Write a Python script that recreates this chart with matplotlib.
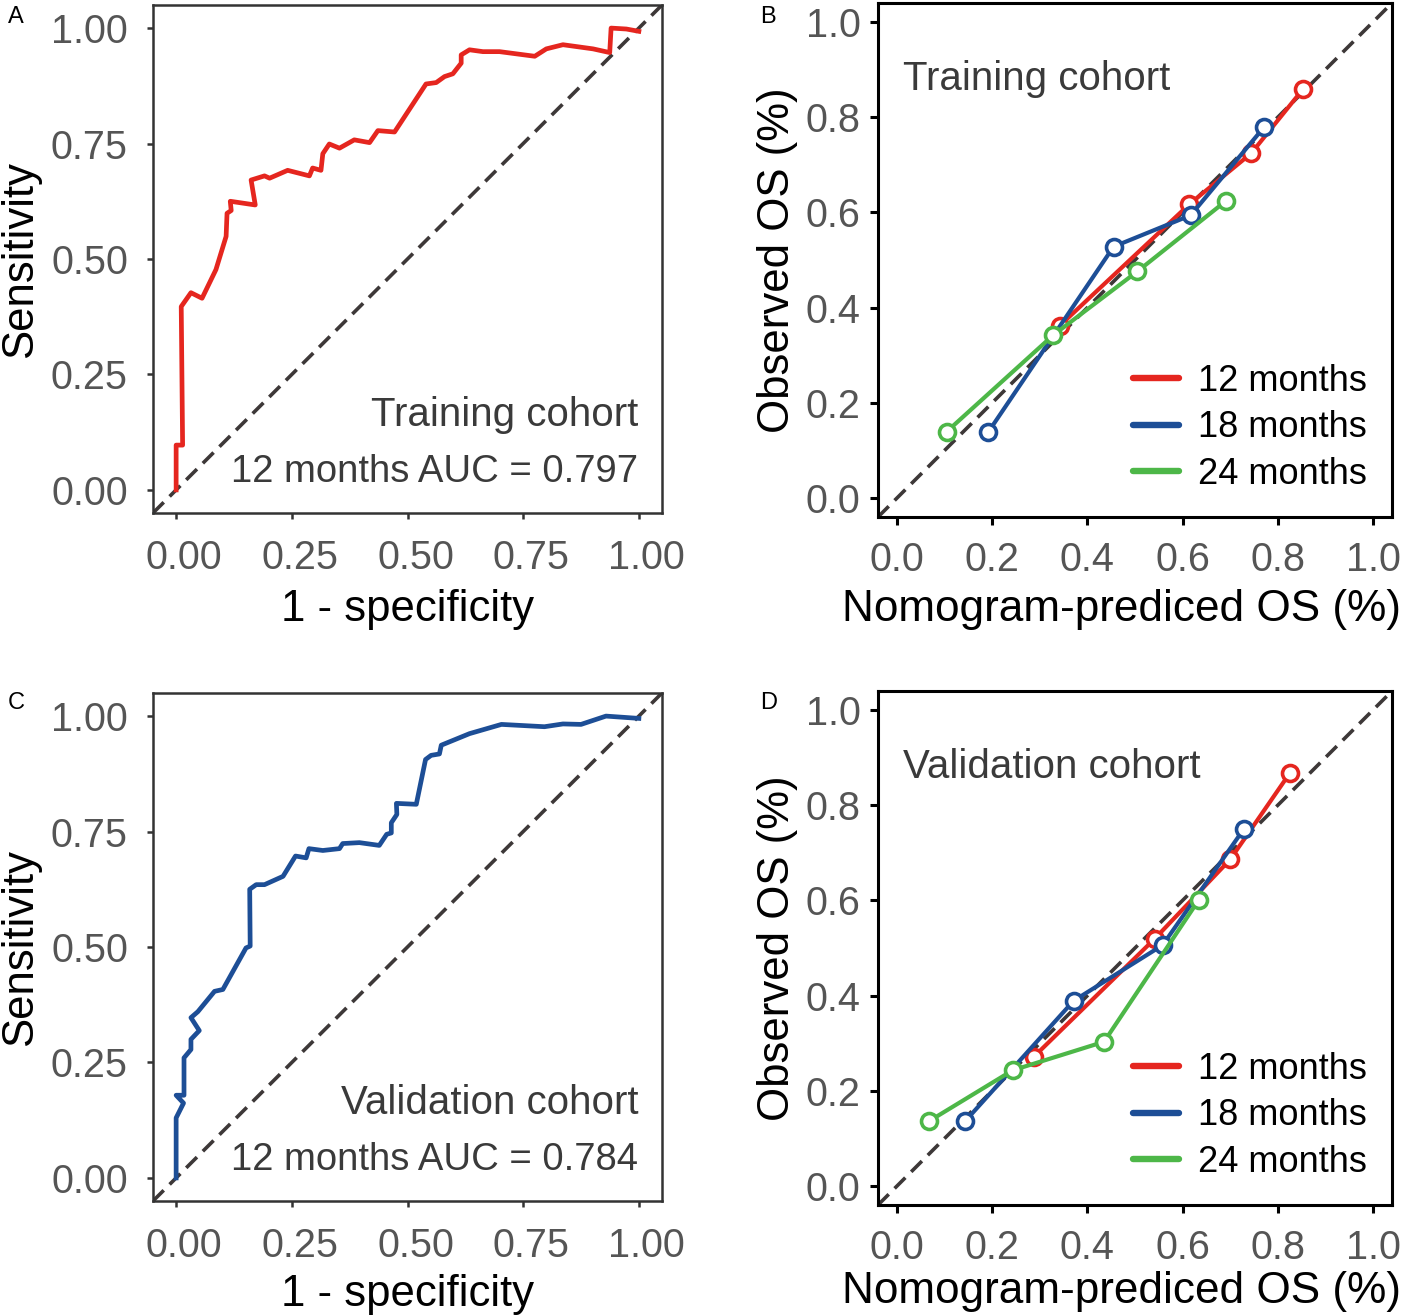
import matplotlib
matplotlib.use("Agg")
import matplotlib.pyplot as plt
import matplotlib.transforms as mtransforms
from matplotlib.lines import Line2D

plt.rcParams['font.family'] = ['Liberation Sans', 'DejaVu Sans']

# ROC curve, training cohort (12 months)
train_fpr = [0, 0, 0.014, 0.011, 0.032, 0.056, 0.086, 0.108, 0.110, 0.119,
             0.117, 0.171, 0.162, 0.191, 0.202, 0.241, 0.288, 0.295, 0.313, 0.317,
             0.331, 0.353, 0.385, 0.418, 0.436, 0.472, 0.540, 0.562, 0.580, 0.598,
             0.616, 0.616, 0.634, 0.663, 0.699, 0.775, 0.800, 0.836, 0.901, 0.937,
             0.940, 0.973, 1.0]
train_tpr = [0, 0.097, 0.097, 0.397, 0.427, 0.415, 0.477, 0.549, 0.599, 0.605,
             0.625, 0.617, 0.671, 0.680, 0.675, 0.692, 0.680, 0.697, 0.692, 0.728,
             0.749, 0.740, 0.758, 0.752, 0.778, 0.775, 0.879, 0.882, 0.895, 0.901,
             0.924, 0.942, 0.953, 0.949, 0.949, 0.939, 0.955, 0.964, 0.955, 0.947,
             1.0, 0.998, 0.993]

# ROC curve, validation cohort (12 months)
val_fpr = [0, 0, 0.009, 0.016, 0, 0.017, 0.017, 0.032, 0.032, 0.050,
           0.032, 0.047, 0.083, 0.101, 0.151, 0.160, 0.159, 0.173, 0.191, 0.231,
           0.258, 0.281, 0.287, 0.317, 0.353, 0.360, 0.396, 0.439, 0.455, 0.465,
           0.465, 0.477, 0.476, 0.519, 0.539, 0.551, 0.569, 0.573, 0.634, 0.703,
           0.796, 0.836, 0.875, 0.929, 1.0]
val_tpr = [0, 0.130, 0.148, 0.162, 0.179, 0.179, 0.260, 0.278, 0.300, 0.319,
           0.347, 0.360, 0.404, 0.408, 0.498, 0.502, 0.625, 0.635, 0.635, 0.653,
           0.697, 0.693, 0.713, 0.709, 0.713, 0.724, 0.726, 0.720, 0.744, 0.747,
           0.769, 0.787, 0.811, 0.809, 0.906, 0.915, 0.918, 0.937, 0.962, 0.982,
           0.977, 0.983, 0.982, 1.0, 0.995]

train_auc = 0.797
val_auc = 0.784

# calibration, training cohort
cal_tr_12_x = [0.342, 0.614, 0.744, 0.853]
cal_tr_12_y = [0.362, 0.617, 0.724, 0.859]
cal_tr_18_x = [0.192, 0.455, 0.617, 0.771]
cal_tr_18_y = [0.139, 0.528, 0.594, 0.779]
cal_tr_24_x = [0.104, 0.328, 0.505, 0.691]
cal_tr_24_y = [0.139, 0.342, 0.476, 0.624]

# calibration, validation cohort
cal_va_12_x = [0.288, 0.541, 0.700, 0.825]
cal_va_12_y = [0.272, 0.519, 0.686, 0.867]
cal_va_18_x = [0.143, 0.371, 0.558, 0.728]
cal_va_18_y = [0.136, 0.389, 0.506, 0.749]
cal_va_24_x = [0.067, 0.243, 0.435, 0.634]
cal_va_24_y = [0.136, 0.243, 0.303, 0.601]

series_labels = ['12 months', '18 months', '24 months']
series_colors = ['#E5261F', '#1D4E96', '#4DB748']

W, H = 1402, 1315
fig = plt.figure(figsize=(W / 100, H / 100), dpi=100)


def px_axes(l, t, r, b):
    return fig.add_axes([l / W, 1 - b / H, (r - l) / W, (b - t) / H])


def diag(ax, lo, hi):
    ax.plot([lo, hi], [lo, hi], color='#3d3838', lw=2.6,
            linestyle=(0, (4.2, 2.3)), zorder=2)


def roc_panel(ax, fpr, tpr, color, cohort, auc, xlab_y):
    ax.set_xlim(-0.05, 1.05)
    ax.set_ylim(-0.05, 1.05)
    diag(ax, -0.05, 1.05)
    ax.plot(fpr, tpr, color=color, lw=3.4, solid_joinstyle='round', zorder=3)
    ticks = [0, 0.25, 0.5, 0.75, 1.0]
    ax.set_xticks(ticks)
    ax.set_yticks(ticks)
    ax.set_xticklabels(['%.2f' % t for t in ticks])
    ax.set_yticklabels(['%.2f' % t for t in ticks])
    for s in ax.spines.values():
        s.set_color('#333333')
        s.set_linewidth(1.8)
    ax.tick_params(axis='both', length=4.5, width=1.8, color='#333333',
                   labelsize=28.5, labelcolor='#555555')
    ax.tick_params(axis='y', pad=13.5)
    ax.tick_params(axis='x', pad=14)
    # x tick labels sit a little right of their ticks in the original
    shift = mtransforms.ScaledTranslation(8 / 100, 0, fig.dpi_scale_trans)
    for lab in ax.get_xticklabels():
        lab.set_transform(lab.get_transform() + shift)
    ax.set_xlabel('1 - specificity', fontsize=31.5, color='black')
    ax.set_ylabel('Sensitivity', fontsize=31.5, color='black')
    ax.xaxis.set_label_coords(0.501, xlab_y)
    ax.yaxis.set_label_coords(-0.219, 0.5)
    ax.text(0.953, 0.172, cohort, transform=ax.transAxes, ha='right',
            va='baseline', fontsize=29, color='#3a3a3a')
    ax.text(0.953, 0.061, '12 months AUC = %.3f' % auc, transform=ax.transAxes,
            ha='right', va='baseline', fontsize=27.5, color='#3a3a3a')


def cal_panel(ax, xs, ys, cohort, xlab_y):
    ax.set_xlim(-0.04, 1.04)
    ax.set_ylim(-0.04, 1.04)
    diag(ax, -0.04, 1.04)
    for x, y, c in zip(xs, ys, series_colors):
        ax.plot(x, y, color=c, lw=3.0, marker='o', ms=11.5, mew=2.6,
                mfc='white', mec=c, zorder=3)
    ticks = [0, 0.2, 0.4, 0.6, 0.8, 1.0]
    ax.set_xticks(ticks)
    ax.set_yticks(ticks)
    ax.set_xticklabels(['%.1f' % t for t in ticks])
    ax.set_yticklabels(['%.1f' % t for t in ticks])
    for s in ax.spines.values():
        s.set_color('black')
        s.set_linewidth(2.2)
    ax.tick_params(axis='both', length=5.5, width=2.2, color='black',
                   labelsize=28.5, labelcolor='#555555')
    ax.tick_params(axis='y', pad=7)
    ax.tick_params(axis='x', pad=12)
    ax.set_xlabel('Nomogram-prediced OS (%)', fontsize=31.8, color='black')
    ax.set_ylabel('Observed OS (%)', fontsize=31.5, color='black')
    ax.xaxis.set_label_coords(0.473, xlab_y)
    ax.yaxis.set_label_coords(-0.155, 0.5)
    ax.text(0.048, 0.830, cohort, transform=ax.transAxes, ha='left',
            va='baseline', fontsize=29, color='#3a3a3a')
    handles = [Line2D([], [], color=c, lw=4.6, solid_capstyle='round')
               for c in series_colors]
    ax.legend(handles, series_labels, loc='lower right', frameon=False,
              fontsize=26, handlelength=1.27, handletextpad=0.53,
              labelspacing=0.32, borderaxespad=0, bbox_to_anchor=(0.979, 0.021))


axA = px_axes(153, 5, 662, 513)
roc_panel(axA, train_fpr, train_tpr, series_colors[0], 'Training cohort',
          train_auc, -0.150)

axC = px_axes(153, 693, 662, 1201)
roc_panel(axC, val_fpr, val_tpr, series_colors[1], 'Validation cohort',
          val_auc, -0.144)

axB = px_axes(878, 3, 1392, 517)
cal_panel(axB, [cal_tr_12_x, cal_tr_18_x, cal_tr_24_x],
          [cal_tr_12_y, cal_tr_18_y, cal_tr_24_y], 'Training cohort', -0.140)

axD = px_axes(878, 691, 1392, 1205)
cal_panel(axD, [cal_va_12_x, cal_va_18_x, cal_va_24_x],
          [cal_va_12_y, cal_va_18_y, cal_va_24_y], 'Validation cohort', -0.128)

for letter, (px, py) in zip('ABCD', [(8, 6), (760, 6), (8, 692), (760, 692)]):
    fig.text(px / W, 1 - py / H, letter, ha='left', va='top', fontsize=17,
             color='black')

fig.savefig('out.png', dpi=100)
